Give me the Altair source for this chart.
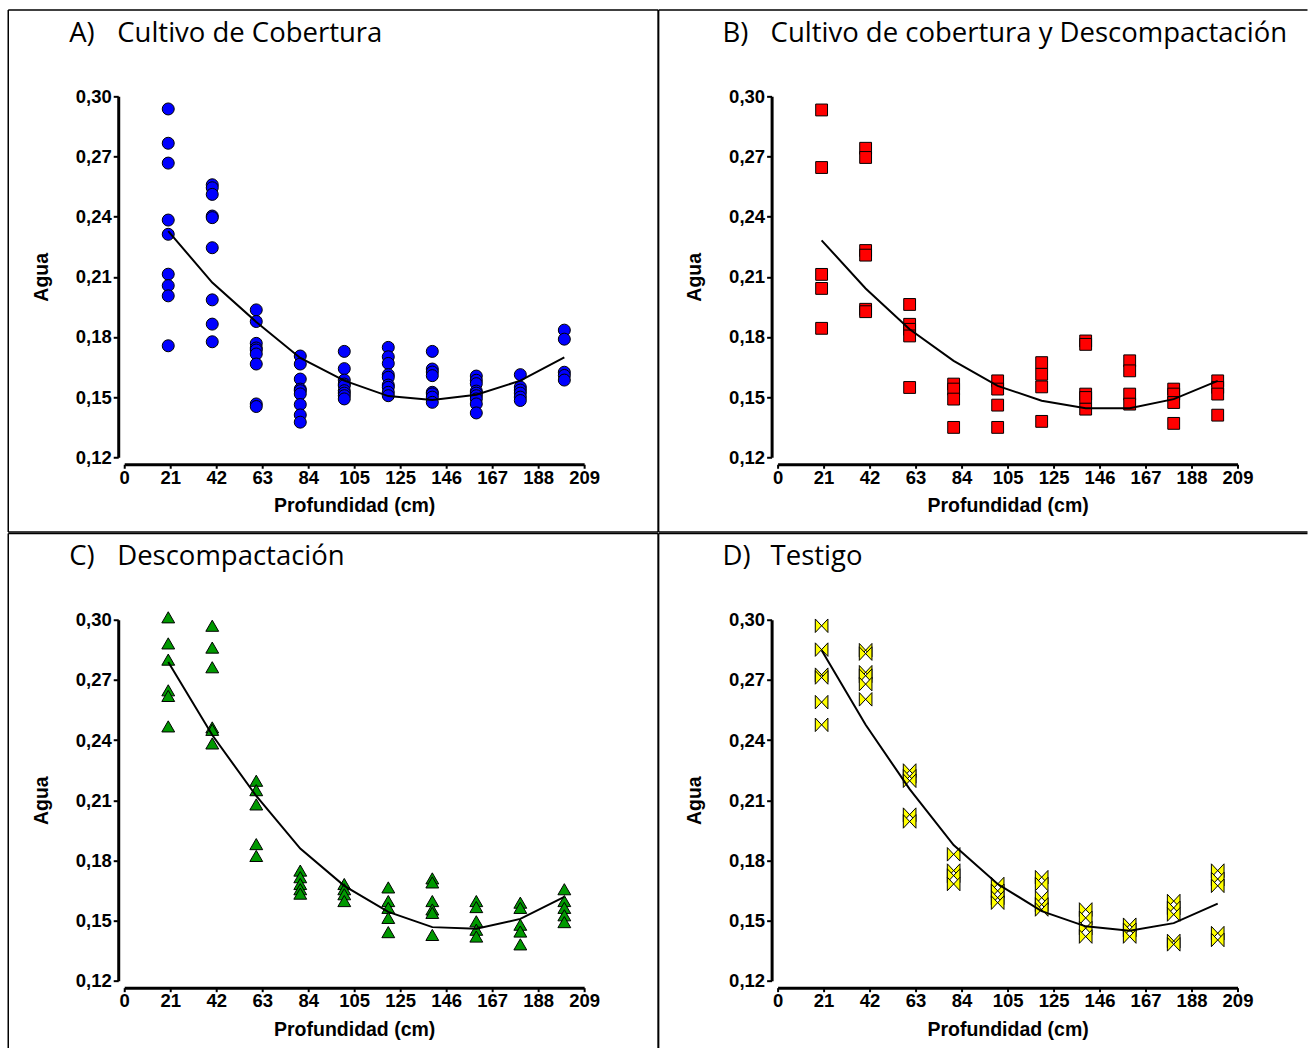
import altair as alt
import pandas as pd

# ---------------- data ----------------
depths = [20, 40, 60, 80, 100, 120, 140, 160, 180, 200]

x_tick_values = [0, 20.9, 41.8, 62.7, 83.6, 104.5, 125.4, 146.3, 167.2, 188.1, 209]
x_tick_labels = ["0", "21", "42", "63", "84", "105", "125", "146", "167", "188", "209"]
y_tick_values = [0.12, 0.15, 0.18, 0.21, 0.24, 0.27, 0.30]

panel_letters = ["A)", "B)", "C)", "D)"]
panel_names = ["Cultivo de Cobertura", "Cultivo de cobertura y Descompactación",
               "Descompactación", "Testigo"]

agua_a = [
    [0.2937, 0.2766, 0.2667, 0.2383, 0.2312, 0.2113, 0.2056, 0.2005, 0.1756],
    [0.2559, 0.2544, 0.2511, 0.2403, 0.2395, 0.2245, 0.1985, 0.1864, 0.1776],
    [0.1935, 0.1877, 0.1768, 0.1745, 0.1735, 0.1715, 0.1665, 0.1466, 0.1453],
    [0.1705, 0.1665, 0.1590, 0.1540, 0.1532, 0.1516, 0.1463, 0.1411, 0.1375],
    [0.1728, 0.1642, 0.1585, 0.1565, 0.1557, 0.1532, 0.1520, 0.1507, 0.1491],
    [0.1748, 0.1701, 0.1668, 0.1612, 0.1599, 0.1560, 0.1549, 0.1524, 0.1507],
    [0.1728, 0.1640, 0.1625, 0.1607, 0.1524, 0.1516, 0.1500, 0.1474],
    [0.1605, 0.1584, 0.1567, 0.1530, 0.1520, 0.1507, 0.1491, 0.1466, 0.1421],
    [0.1612, 0.1550, 0.1535, 0.1520, 0.1500, 0.1483],
    [0.1834, 0.1789, 0.1624, 0.1608, 0.1585],
]
fit_a = [0.2328, 0.2071, 0.1875, 0.1695, 0.1582, 0.1505, 0.1486, 0.1512, 0.1582, 0.1698]

agua_b = [
    [0.2932, 0.2645, 0.2112, 0.2042, 0.1843],
    [0.2741, 0.2695, 0.2231, 0.2208, 0.1938, 0.1926],
    [0.1962, 0.1863, 0.1838, 0.1805, 0.1548],
    [0.1565, 0.1540, 0.1490, 0.1349],
    [0.1581, 0.1540, 0.1460, 0.1349],
    [0.1672, 0.1614, 0.1551, 0.1379],
    [0.1780, 0.1763, 0.1515, 0.1498, 0.1440],
    [0.1681, 0.1631, 0.1515, 0.1465],
    [0.1540, 0.1515, 0.1473, 0.1369],
    [0.1581, 0.1548, 0.1515, 0.1410],
]
fit_b = [0.2282, 0.2042, 0.1838, 0.1681, 0.1556, 0.1482, 0.1445, 0.1445, 0.1490, 0.1581]

agua_c = [
    [0.3012, 0.2882, 0.2801, 0.2648, 0.2620, 0.2468],
    [0.2970, 0.2861, 0.2763, 0.2463, 0.2451, 0.2383],
    [0.2197, 0.2150, 0.2079, 0.1881, 0.1822],
    [0.1749, 0.1716, 0.1682, 0.1656, 0.1634],
    [0.1682, 0.1656, 0.1631, 0.1597],
    [0.1665, 0.1597, 0.1563, 0.1513, 0.1442],
    [0.1710, 0.1690, 0.1597, 0.1555, 0.1538, 0.1428],
    [0.1597, 0.1567, 0.1496, 0.1454, 0.1420],
    [0.1589, 0.1563, 0.1479, 0.1445, 0.1381],
    [0.1656, 0.1597, 0.1563, 0.1526, 0.1492],
]
fit_c = [0.2789, 0.2425, 0.2121, 0.1859, 0.1673, 0.1543, 0.1467, 0.1459, 0.1508, 0.1618]

agua_d = [
    [0.2970, 0.2851, 0.2726, 0.2712, 0.2589, 0.2476],
    [0.2848, 0.2831, 0.2738, 0.2721, 0.2679, 0.2603],
    [0.2248, 0.2219, 0.2197, 0.2028, 0.1994],
    [0.1830, 0.1749, 0.1724, 0.1682],
    [0.1682, 0.1648, 0.1614, 0.1589],
    [0.1716, 0.1682, 0.1614, 0.1580, 0.1555],
    [0.1555, 0.1513, 0.1462, 0.1420],
    [0.1479, 0.1454, 0.1420],
    [0.1597, 0.1563, 0.1530, 0.1398, 0.1381],
    [0.1749, 0.1707, 0.1673, 0.1437, 0.1403],
]
fit_d = [0.2848, 0.2476, 0.2155, 0.1876, 0.1682, 0.1547, 0.1471, 0.1449, 0.1487, 0.1584]

# ---------------- styles ----------------
colors = ["#0000FF", "#FF0000", "#009900", "#FFFF00"]
shapes = ["circle", "square", "triangle-up", "M-1,-1.07L1,1.07L1,-1.07L-1,1.07Z"]
sizes = [144, 140, 165, 160]

PW, PH = 460, 361
BORDER_W = 1.5

labels_js = "[" + ",".join("'%s'" % l for l in x_tick_labels) + "]"
vals_js = "[" + ",".join(str(v) for v in x_tick_values) + "]"

LABEL_FONT = "Liberation Sans"
TITLE_FONT = "Open Sans"

x_axis = alt.Axis(
    values=x_tick_values,
    labelExpr="%s[indexof(%s, datum.value)]" % (labels_js, vals_js),
    grid=False, domainColor="black", domainWidth=3, tickColor="black",
    tickWidth=2, tickSize=4, offset=7, labelFont=LABEL_FONT,
    labelFontWeight="bold", labelFontSize=18.5, labelColor="black",
    labelPadding=0, labelFlush=False, labelOverlap=False,
    titleFont=LABEL_FONT, titleFontWeight="bold", titleFontSize=19.5,
    titleColor="black", titlePadding=10,
)
y_axis = alt.Axis(
    values=y_tick_values,
    labelExpr="replace(format(datum.value, '.2f'), '.', ',')",
    grid=False, domainColor="black", domainWidth=3, tickColor="black",
    tickWidth=2, tickSize=5, offset=6, labelFont=LABEL_FONT,
    labelFontWeight="bold", labelFontSize=18.5, labelColor="black",
    labelPadding=2, labelFlush=False, labelOverlap=False,
    titleFont=LABEL_FONT, titleFontWeight="bold", titleFontSize=19.5,
    titleColor="black", titlePadding=24,
)


def rule(x, x2, y, y2):
    return alt.Chart(pd.DataFrame({"k": [0]})).mark_rule(
        color="black", strokeWidth=BORDER_W
    ).encode(x=alt.value(x), x2=alt.value(x2), y=alt.value(y), y2=alt.value(y2))


def panel(i, values, fit, geom):
    left, top, right, bottom, draw_right, draw_bottom = geom
    pts = pd.DataFrame(
        [{"depth": d, "agua": v} for d, vs in zip(depths, values) for v in vs]
    )
    fit_df = pd.DataFrame({"depth": depths, "agua": fit})
    xenc = alt.X("depth:Q", title="Profundidad (cm)",
                 scale=alt.Scale(domain=[0, 209], nice=False, zero=False),
                 axis=x_axis)
    yenc = alt.Y("agua:Q", title="Agua",
                 scale=alt.Scale(domain=[0.12, 0.30], nice=False, zero=False),
                 axis=y_axis)
    points = alt.Chart(pts).mark_point(
        shape=shapes[i], filled=True, fill=colors[i], stroke="black",
        strokeWidth=1, size=sizes[i], opacity=1
    ).encode(x=xenc, y=yenc)
    line = alt.Chart(fit_df).mark_line(color="black", strokeWidth=2).encode(
        x=xenc, y=yenc
    )
    title_df = pd.DataFrame({"letter": [panel_letters[i]], "name": [panel_names[i]]})
    letter = alt.Chart(title_df).mark_text(
        align="left", baseline="alphabetic", font=TITLE_FONT, fontSize=27.5,
        color="black"
    ).encode(x=alt.value(-55), y=alt.value(-54.5), text="letter:N")
    name = alt.Chart(title_df).mark_text(
        align="left", baseline="alphabetic", font=TITLE_FONT, fontSize=27.5,
        color="black"
    ).encode(x=alt.value(-7), y=alt.value(-54.5), text="name:N")
    layers = [points, line, letter, name,
              rule(left, right, top, top),
              rule(left, left, top, bottom)]
    if draw_right:
        layers.append(rule(right, right, top, bottom))
    if draw_bottom:
        layers.append(rule(left, right, bottom, bottom))
    return alt.layer(*layers).properties(width=PW, height=PH)


geom_a = (-116, -86.3, 534, 435.7, True, True)
geom_b = (-119, -86.3, 530, 435.7, False, True)
geom_c = (-116, -86.3, 534, 428.7, True, False)
geom_d = (-119, -86.3, 530, 428.7, False, False)

pa = panel(0, agua_a, fit_a, geom_a)
pb = panel(1, agua_b, fit_b, geom_b)
pc = panel(2, agua_c, fit_c, geom_c)
pd_ = panel(3, agua_d, fit_d, geom_d)

top_row = alt.hconcat(pa, pb, spacing=-BORDER_W)
bottom_row = alt.hconcat(pc, pd_, spacing=-BORDER_W)

chart = alt.vconcat(top_row, bottom_row, spacing=-BORDER_W).properties(
    padding={"left": 8 - BORDER_W / 2, "top": 9 - BORDER_W / 2, "right": 0, "bottom": 0},
    background="white",
).configure_view(stroke=None)

chart.save("out.html", embed_options={"renderer": "svg", "actions": False})
